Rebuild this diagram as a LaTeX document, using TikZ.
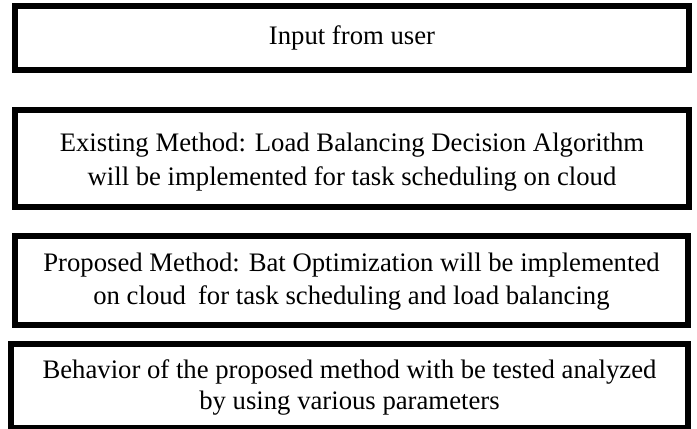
\documentclass[tikz,border=0pt]{standalone}
\usepackage{fontspec}
\setmainfont{Liberation Serif}
\begin{document}
\begin{tikzpicture}[x=1bp,y=-1bp,
  stagebox/.style={draw=black,line width=6bp,rectangle,inner sep=0pt,fill=white},
  stagetext/.style={anchor=base,align=center,inner sep=0pt,
    font=\fontsize{26.7bp}{#1}\selectfont},
  stagetext/.default=32bp]
\useasboundingbox (0,0) rectangle (697,428);
% the four stages, top to bottom
\node[stagebox,minimum width=674bp,minimum height=64bp] (b1) at (352,38) {};
\node[stagebox,minimum width=674bp,minimum height=97bp] (b2) at (352,158.5) {};
\node[stagebox,minimum width=673bp,minimum height=89bp] (b3) at (351.5,280.5) {};
\node[stagebox,minimum width=677bp,minimum height=84bp] (b4) at (349.5,386) {};
% stage descriptions (base anchor sits on the last line)
\node[stagetext] (t1) at ([yshift=-6bp]b1.center) {Input from user};
\node[stagetext=34bp] (t2) at ([yshift=-27bp]b2.center)
  {Existing Method: Load Balancing Decision Algorithm\\will be implemented for task scheduling on cloud};
\node[stagetext=33bp] (t3) at ([yshift=-24bp]b3.center)
  {Proposed Method: Bat Optimization will be implemented\\on cloud\hspace{0.2em} for task scheduling and load balancing};
\node[stagetext=31bp] (t4) at ([yshift=-23.5bp]b4.center)
  {Behavior of the proposed method with be tested analyzed\\by using various parameters};
\end{tikzpicture}
\end{document}
